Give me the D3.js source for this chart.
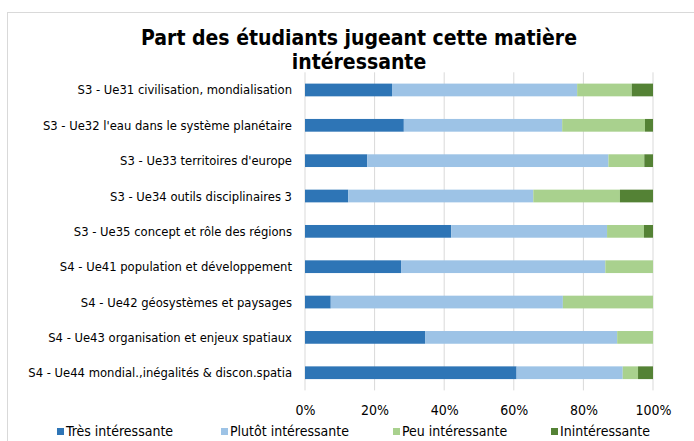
<!DOCTYPE html>
<html>
<head>
<meta charset="utf-8">
<script src="https://cdn.jsdelivr.net/npm/d3@7"></script>
<style>
  body { margin: 0; background: #fff; }
  text { font-family: 'DejaVu Sans Condensed', 'DejaVu Sans', sans-serif; fill: #000; }
</style>
</head>
<body>
<div id="wrapper"></div>
<script>
// data
const categories = [
  'S3 - Ue31 civilisation, mondialisation',
  "S3 - Ue32 l'eau dans le système planétaire",
  "S3 - Ue33 territoires d'europe",
  'S3 - Ue34 outils disciplinaires 3',
  'S3 - Ue35 concept et rôle des régions',
  'S4 - Ue41 population et développement',
  'S4 - Ue42 géosystèmes et paysages',
  'S4 - Ue43 organisation et enjeux spatiaux',
  'S4 - Ue44 mondial.,inégalités & discon.spatia',
]
const seriesNames = ['Très intéressante', 'Plutôt intéressante', 'Peu intéressante', 'Inintéressante']
const tres = [25.0, 28.4, 17.9, 12.4, 42.0, 27.6, 7.4, 34.5, 60.8]
const plutot = [53.2, 45.5, 69.3, 53.2, 44.8, 58.7, 66.7, 55.2, 30.5]
const peu = [15.7, 23.8, 10.3, 24.9, 10.6, 13.7, 25.9, 10.3, 4.4]
const inint = [6.1, 2.3, 2.5, 9.5, 2.6, 0, 0, 0, 4.3]
const tickValues = [0, 0.2, 0.4, 0.6, 0.8, 1]
const colors = ['#2e75b6', '#9dc3e6', '#a9d18e', '#548235']

const rows = categories.map((c, i) => ({
  cat: c,
  [seriesNames[0]]: tres[i],
  [seriesNames[1]]: plutot[i],
  [seriesNames[2]]: peu[i],
  [seriesNames[3]]: inint[i],
}))
// normalise each row to 100%
rows.forEach((r) => {
  const t = d3.sum(seriesNames, (k) => r[k])
  seriesNames.forEach((k) => (r[k] = r[k] / t))
})

const dimensions = {
  width: 694,
  height: 441,
  plotLeft: 305,
  plotRight: 653,
  plotTop: 72.3,
  plotBottom: 390.4,
}

const svg = d3
  .select('#wrapper')
  .append('svg')
  .attr('width', dimensions.width)
  .attr('height', dimensions.height)

// chart border
svg
  .append('rect')
  .attr('x', 7.5)
  .attr('y', 12.5)
  .attr('width', 720)
  .attr('height', 460)
  .attr('fill', 'none')
  .attr('stroke', '#d9d9d9')

const xScale = d3
  .scaleLinear()
  .domain([0, 1])
  .range([dimensions.plotLeft, dimensions.plotRight])

const yScale = d3
  .scaleBand()
  .domain(categories)
  .range([dimensions.plotTop, dimensions.plotBottom])
  .paddingInner(0.64)
  .paddingOuter(0.32)

const colorScale = d3.scaleOrdinal().domain(seriesNames).range(colors)

// gridlines
svg
  .append('g')
  .selectAll('line')
  .data(tickValues)
  .join('line')
  .attr('x1', (d) => xScale(d))
  .attr('x2', (d) => xScale(d))
  .attr('y1', dimensions.plotTop)
  .attr('y2', dimensions.plotBottom)
  .attr('stroke', '#d9d9d9')
  .attr('stroke-width', 1)

// bars
const stacked = d3.stack().keys(seriesNames)(rows)
svg
  .append('g')
  .selectAll('g')
  .data(stacked)
  .join('g')
  .attr('fill', (s) => colorScale(s.key))
  .selectAll('rect')
  .data((s) => s)
  .join('rect')
  .attr('x', (d) => xScale(d[0]))
  .attr('y', (d) => yScale(d.data.cat))
  .attr('width', (d) => xScale(d[1]) - xScale(d[0]))
  .attr('height', yScale.bandwidth())

// category labels
svg
  .append('g')
  .selectAll('text')
  .data(categories)
  .join('text')
  .attr('x', 292)
  .attr('y', (d) => yScale(d) + yScale.bandwidth() / 2)
  .attr('dy', '0.35em')
  .attr('text-anchor', 'end')
  .style('font-size', '12.9px')
  .text((d) => d)

// x axis tick labels
const xAxis = d3
  .axisBottom(xScale)
  .tickValues(tickValues)
  .tickFormat(d3.format('.0%'))
  .tickSize(0)
  .tickPadding(0)
svg
  .append('g')
  .attr('transform', `translate(0, 405)`)
  .call(xAxis)
  .call((g) => g.select('.domain').remove())
  .selectAll('text')
  .style('font-size', '14px')
  .style('font-family', "'DejaVu Sans Condensed', sans-serif")
  .attr('fill', '#000')

// title
const title = svg
  .append('text')
  .attr('x', 359)
  .attr('text-anchor', 'middle')
  .style('font-size', '21px')
  .style('font-weight', 'bold')
title.append('tspan').attr('x', 359).attr('y', 45).text('Part des étudiants jugeant cette matière')
title.append('tspan').attr('x', 359).attr('y', 69).text('intéressante')

// legend
const legendX = [57, 221, 393, 551]
const legend = svg
  .append('g')
  .selectAll('g')
  .data(seriesNames)
  .join('g')
  .attr('transform', (d, i) => `translate(${legendX[i]}, 431)`)
legend
  .append('rect')
  .attr('x', 0)
  .attr('y', -3)
  .attr('width', 7)
  .attr('height', 7)
  .attr('fill', (d) => colorScale(d))
legend
  .append('text')
  .attr('x', 9)
  .attr('y', 0)
  .attr('dy', '0.35em')
  .style('font-size', '14px')
  .text((d) => d)
</script>
</body>
</html>
